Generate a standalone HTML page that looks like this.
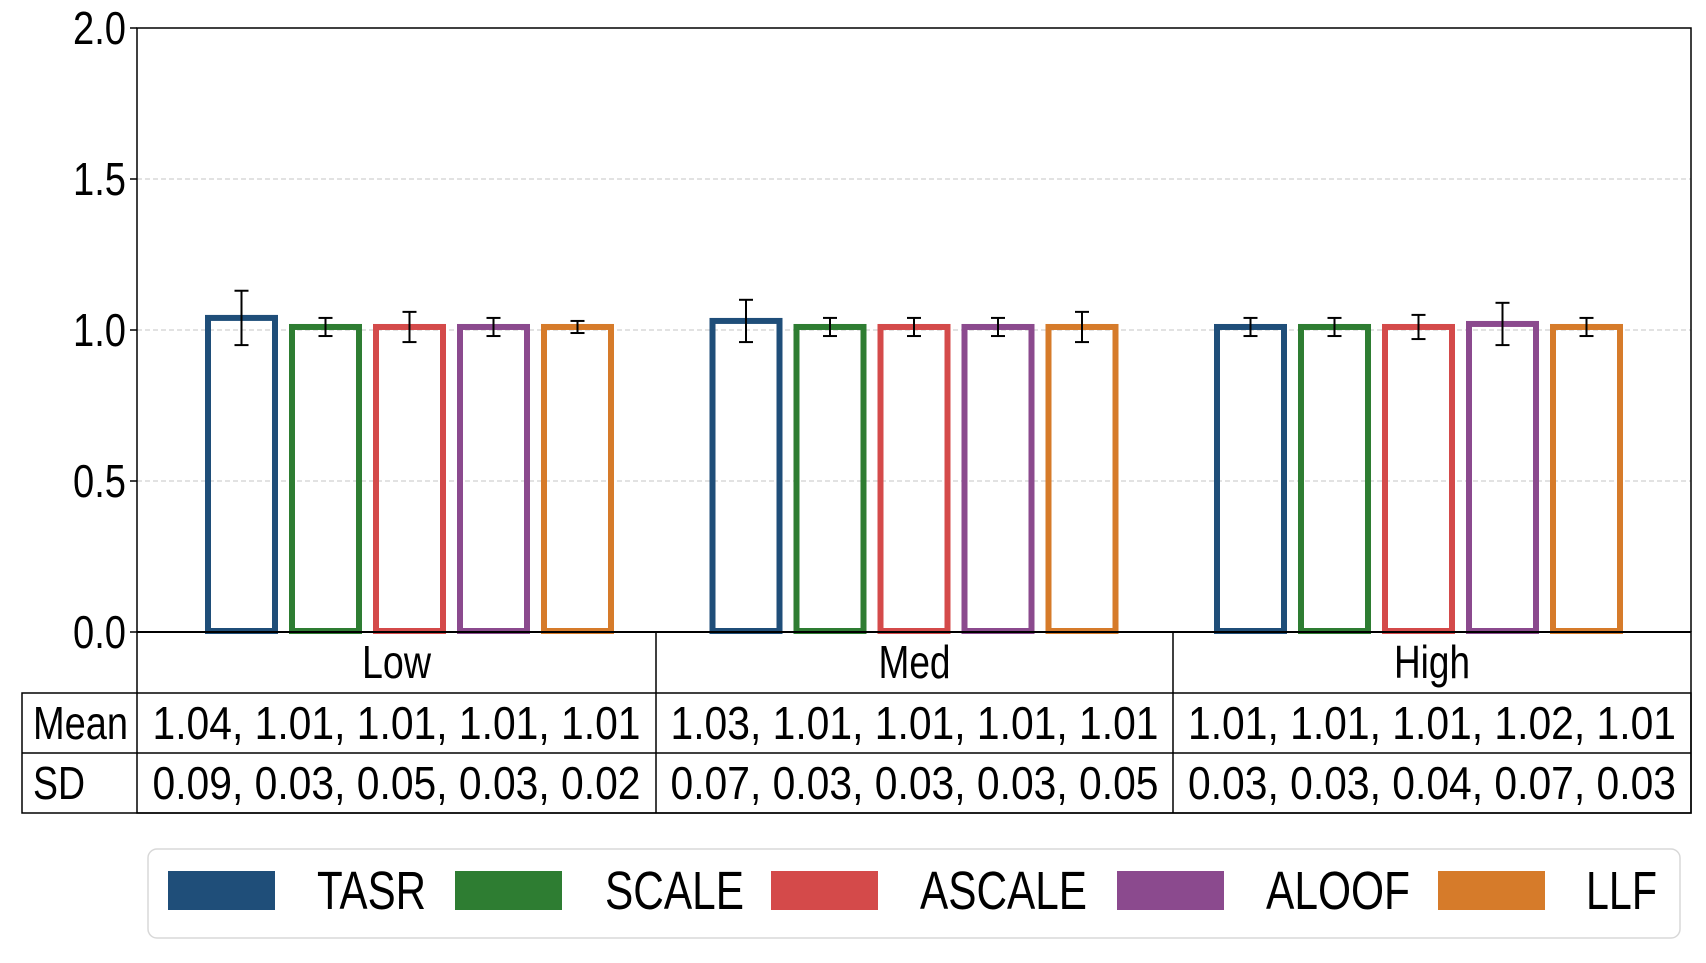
<!DOCTYPE html>
<html><head><meta charset="utf-8"><style>
body{margin:0;background:#fff;}
svg text{font-family:"Liberation Sans",sans-serif;fill:#000;}
</style></head><body>
<svg id="chart" width="1706" height="958" xmlns="http://www.w3.org/2000/svg">
<g id="grid"></g>
<g id="bars"></g>
<g id="yaxis"></g>
<g id="table"></g>
<g id="legend"></g>
</svg>
<script>
const categories = ["Low","Med","High"];
const seriesNames = ["TASR","SCALE","ASCALE","ALOOF","LLF"];
const seriesColors = ["#1f4e79","#2e7d32","#d44a4a","#8b4a8e","#d67b2a"];
const meanLow = [1.04,1.01,1.01,1.01,1.01];
const meanMed = [1.03,1.01,1.01,1.01,1.01];
const meanHigh = [1.01,1.01,1.01,1.02,1.01];
const sdLow = [0.09,0.03,0.05,0.03,0.02];
const sdMed = [0.07,0.03,0.03,0.03,0.05];
const sdHigh = [0.03,0.03,0.04,0.07,0.03];
const yTicks = [0,0.5,1.0,1.5,2.0];
const yTickLabels = ["0.0","0.5","1.0","1.5","2.0"];

const means=[meanLow,meanMed,meanHigh], sds=[sdLow,sdMed,sdHigh];
const NS="http://www.w3.org/2000/svg";
const L=137,R=1691,T=28,B=632;
const y=v=>B-(v/2)*(B-T);
const x=v=>409.5+v*504.5;
const slot=84/504.5, bw=67/504.5;
function mk(tag,attrs,parent){const e=document.createElementNS(NS,tag);for(const k in attrs)e.setAttribute(k,attrs[k]);parent.appendChild(e);return e;}
function txt(s,attrs,parent,len){const e=mk('text',attrs,parent);e.textContent=s;if(len){e.setAttribute('textLength',len);e.setAttribute('lengthAdjust','spacingAndGlyphs');}return e;}
const grid=document.getElementById('grid'),bars=document.getElementById('bars'),ya=document.getElementById('yaxis'),tb=document.getElementById('table'),lg=document.getElementById('legend');
yTicks.forEach((t,i)=>{
  if(t>0&&t<2){const g=mk('line',{x1:L,x2:R,y1:y(t),y2:y(t),stroke:'#d0d0d0','stroke-width':1.2,'stroke-dasharray':'5,3'},grid);
  }
  const tk=mk('line',{x1:L-7,x2:L,y1:y(t),y2:y(t),stroke:'#000','stroke-width':1.5},ya);
  
  const lb=txt(yTickLabels[i],{x:126,y:y(t)+16,'text-anchor':'end','font-size':46},ya,53);
  
});
categories.forEach((c,ci)=>{
  seriesNames.forEach((s,si)=>{
    const cx=x(ci+(si-2)*slot), m=means[ci][si], sd=sds[ci][si];
    const w=bw*504.5;
    const r=mk('rect',{x:cx-w/2,y:y(m),width:w,height:B-y(m)-1,fill:'none',stroke:seriesColors[si],'stroke-width':6},bars);
    
    const eg=mk('g',{stroke:'#000','stroke-width':2},bars);
    
    mk('line',{x1:cx,x2:cx,y1:y(m+sd),y2:y(m-sd)},eg);
    mk('line',{x1:cx-7,x2:cx+7,y1:y(m+sd),y2:y(m+sd)},eg);
    mk('line',{x1:cx-7,x2:cx+7,y1:y(m-sd),y2:y(m-sd)},eg);
  });
});
const fr=mk('path',{d:`M${L},${B} L${L},${T} L${R},${T} L${R},${B}`,fill:'none',stroke:'#000','stroke-width':1.5},ya);

const cols=[137,656,1173,1691];
const tg=mk('g',{stroke:'#000','stroke-width':1.5,fill:'none'},tb);
mk('rect',{x:137,y:632,width:1554,height:181},tg);
mk('rect',{x:22,y:693,width:1669,height:120},tg);
mk('line',{x1:22,x2:1691,y1:753,y2:753},tg);
cols.slice(1,3).forEach(c=>mk('line',{x1:c,x2:c,y1:632,y2:813},tg));
mk('line',{x1:L,x2:R,y1:B,y2:B,stroke:'#000','stroke-width':2},tg);
const rl1=txt('Mean',{x:33,y:739,'font-size':46},tb,95);
const rl2=txt('SD',{x:33,y:799,'font-size':46},tb,52);
const catLen=[69,72,76];
categories.forEach((c,ci)=>{
  const cc=(cols[ci]+cols[ci+1])/2;
  const h=txt(c,{x:cc,y:678,'text-anchor':'middle','font-size':46},tb,catLen[ci]);
  
  const mt=txt(means[ci].map(v=>v.toFixed(2)).join(', '),{x:cc,y:739,'text-anchor':'middle','font-size':46},tb,488);
  
  const st=txt(sds[ci].map(v=>v.toFixed(2)).join(', '),{x:cc,y:799,'text-anchor':'middle','font-size':46},tb,488);
  
});
const lb=mk('rect',{x:148,y:849,width:1532,height:89,rx:9,fill:'#fff',stroke:'#d8d8d8','stroke-width':1.5},lg);

const px=[168,455,771,1117,1438], tx=[317,605,920,1266,1586], tw=[109,139,167,144,71];
seriesNames.forEach((s,i)=>{
  const g=mk('g',{},lg);
  
  mk('rect',{x:px[i],y:871,width:107,height:39,fill:seriesColors[i]},g);
  txt(s,{x:tx[i],y:909,'font-size':54},g,tw[i]);
});
</script>
</body></html>
